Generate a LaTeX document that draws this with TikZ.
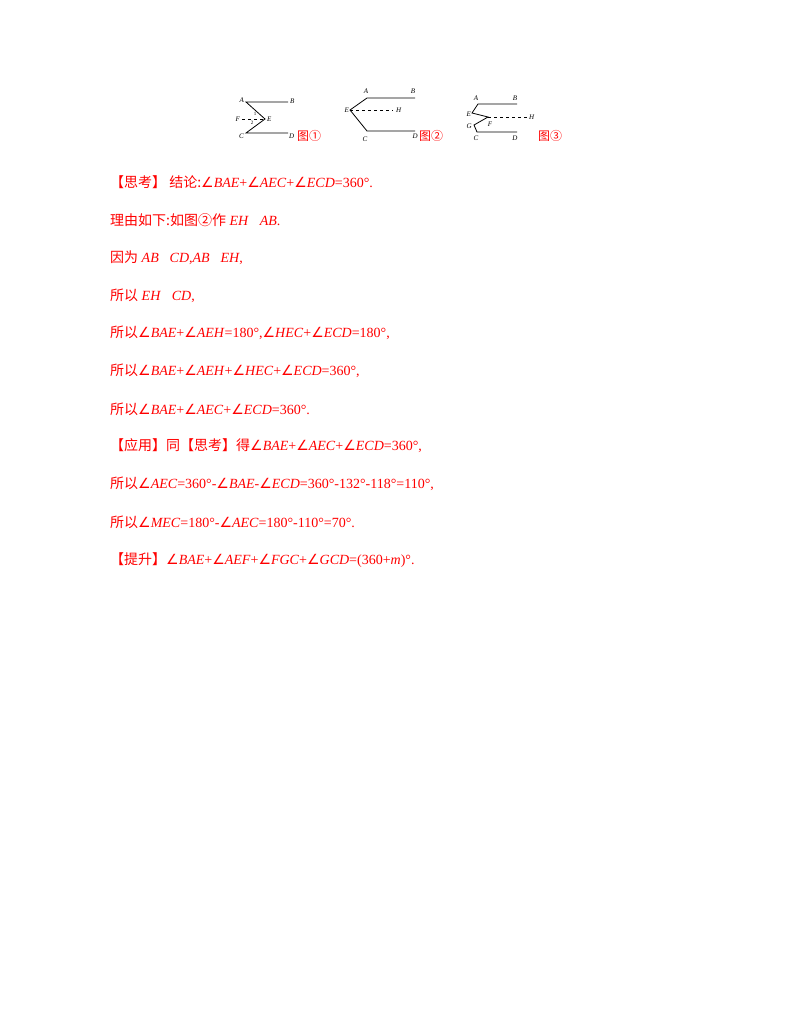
\documentclass[tikz,border=0pt]{standalone}
\usepackage{fontspec}
\setmainfont{Liberation Serif}
\newfontfamily\cjk{Noto Sans CJK SC}
\newfontfamily\djvfont{DejaVu Sans}
\newcommand{\zh}[1]{{\cjk #1}}
\newcommand{\ang}{{\upshape\djvfont ∠}}
\begin{document}
\begin{tikzpicture}[x=1pt,y=-1pt,
  txt/.style={anchor=west,text=red,font=\fontsize{14}{16}\selectfont,inner sep=0pt},
  lbl/.style={font=\fontsize{7}{8}\selectfont\itshape,inner sep=0pt},
  fig/.style={text=red,font=\fontsize{12}{14}\selectfont\cjk,inner sep=0pt,anchor=west},
  seg/.style={line width=0.8pt},
  dashline/.style={dashed,line width=0.6pt}]
\useasboundingbox (0,0) rectangle (800,1031);
% figure 1
\coordinate (A1) at (246,102); \coordinate (B1) at (288,102);
\coordinate (E1) at (265,119); \coordinate (F1) at (242,119);
\coordinate (C1) at (246,133); \coordinate (D1) at (288,133);
\draw[seg] (B1)--(A1)--(E1)--(C1)--(D1);
\draw[dashline] (F1)--(E1);
\node[lbl,anchor=east] (la1) at (244,100) {A};
\node[lbl,anchor=west] (lb1) at (290,101) {B};
\node[lbl,anchor=east] (lf1) at (240,119) {F};
\node[lbl,anchor=west] (le1) at (267,119) {E};
\node[lbl,anchor=east] (lc1) at (244,136) {C};
\node[lbl,anchor=west] (ld1) at (289,136) {D};
\node[font=\fontsize{5}{5}\selectfont,inner sep=0pt] (n11) at (255,114) {1};
\node[font=\fontsize{5}{5}\selectfont,inner sep=0pt] (n21) at (252,123) {2};
\node[fig] (t1) at (297,136) {图①};
% figure 2
\coordinate (A2) at (367,98); \coordinate (B2) at (415,98);
\coordinate (E2) at (350,110); \coordinate (H2) at (393,110);
\coordinate (C2) at (367,131); \coordinate (D2) at (415,131);
\draw[seg] (B2)--(A2)--(E2)--(C2)--(D2);
\draw[dashline] (E2)--(H2);
\node[lbl] (la2) at (366,91) {A};
\node[lbl] (lb2) at (413,91) {B};
\node[lbl,anchor=east] (le2) at (349,110) {E};
\node[lbl,anchor=west] (lh2) at (396,110) {H};
\node[lbl] (lc2) at (365,139) {C};
\node[lbl,anchor=east] (ld2) at (418,136) {D};
\node[fig] (t2) at (419,136) {图②};
% figure 3
\coordinate (A3) at (478,104); \coordinate (B3) at (517,104);
\coordinate (E3) at (472,113); \coordinate (F3) at (488,117);
\coordinate (H3) at (527,117); \coordinate (G3) at (474,125);
\coordinate (C3) at (477,132); \coordinate (D3) at (517,132);
\draw[seg] (B3)--(A3)--(E3)--(F3)--(G3)--(C3)--(D3);
\draw[dashline] (F3)--(H3);
\node[lbl] (la3) at (476,98) {A};
\node[lbl] (lb3) at (515,98) {B};
\node[lbl,anchor=east] (le3) at (471,114) {E};
\node[lbl] (lf3) at (490,124) {F};
\node[lbl,anchor=west] (lh3) at (529,117) {H};
\node[lbl,anchor=east] (lg3) at (472,126) {G};
\node[lbl] (lc3) at (476,138) {C};
\node[lbl] (ld3) at (515,138) {D};
\node[fig] (t3) at (538,136) {图③};
% text
\node[txt] (l1) at (110,182) {\zh{【思考】 结论:}\ang\textit{BAE}+\ang\textit{AEC}+\ang\textit{ECD}=360°.};
\node[txt] (l2) at (110,220) {\zh{理由如下:如图②作} \textit{EH}∥\textit{AB}.};
\node[txt] (l3) at (110,258) {\zh{因为} \textit{AB}∥\textit{CD},\textit{AB}∥\textit{EH},};
\node[txt] (l4) at (110,296) {\zh{所以} \textit{EH}∥\textit{CD},};
\node[txt] (l5) at (110,333) {\zh{所以}\ang\textit{BAE}+\ang\textit{AEH}=180°,\ang\textit{HEC}+\ang\textit{ECD}=180°,};
\node[txt] (l6) at (110,371) {\zh{所以}\ang\textit{BAE}+\ang\textit{AEH}+\ang\textit{HEC}+\ang\textit{ECD}=360°,};
\node[txt] (l7) at (110,409) {\zh{所以}\ang\textit{BAE}+\ang\textit{AEC}+\ang\textit{ECD}=360°.};
\node[txt] (l8) at (110,446) {\zh{【应用】同【思考】得}\ang\textit{BAE}+\ang\textit{AEC}+\ang\textit{ECD}=360°,};
\node[txt] (l9) at (110,484) {\zh{所以}\ang\textit{AEC}=360°-\ang\textit{BAE}-\ang\textit{ECD}=360°-132°-118°=110°,};
\node[txt] (l10) at (110,522) {\zh{所以}\ang\textit{MEC}=180°-\ang\textit{AEC}=180°-110°=70°.};
\node[txt] (l11) at (110,560) {\zh{【提升】}\ang\textit{BAE}+\ang\textit{AEF}+\ang\textit{FGC}+\ang\textit{GCD}=(360+\textit{m})°.};
\end{tikzpicture}
\end{document}
